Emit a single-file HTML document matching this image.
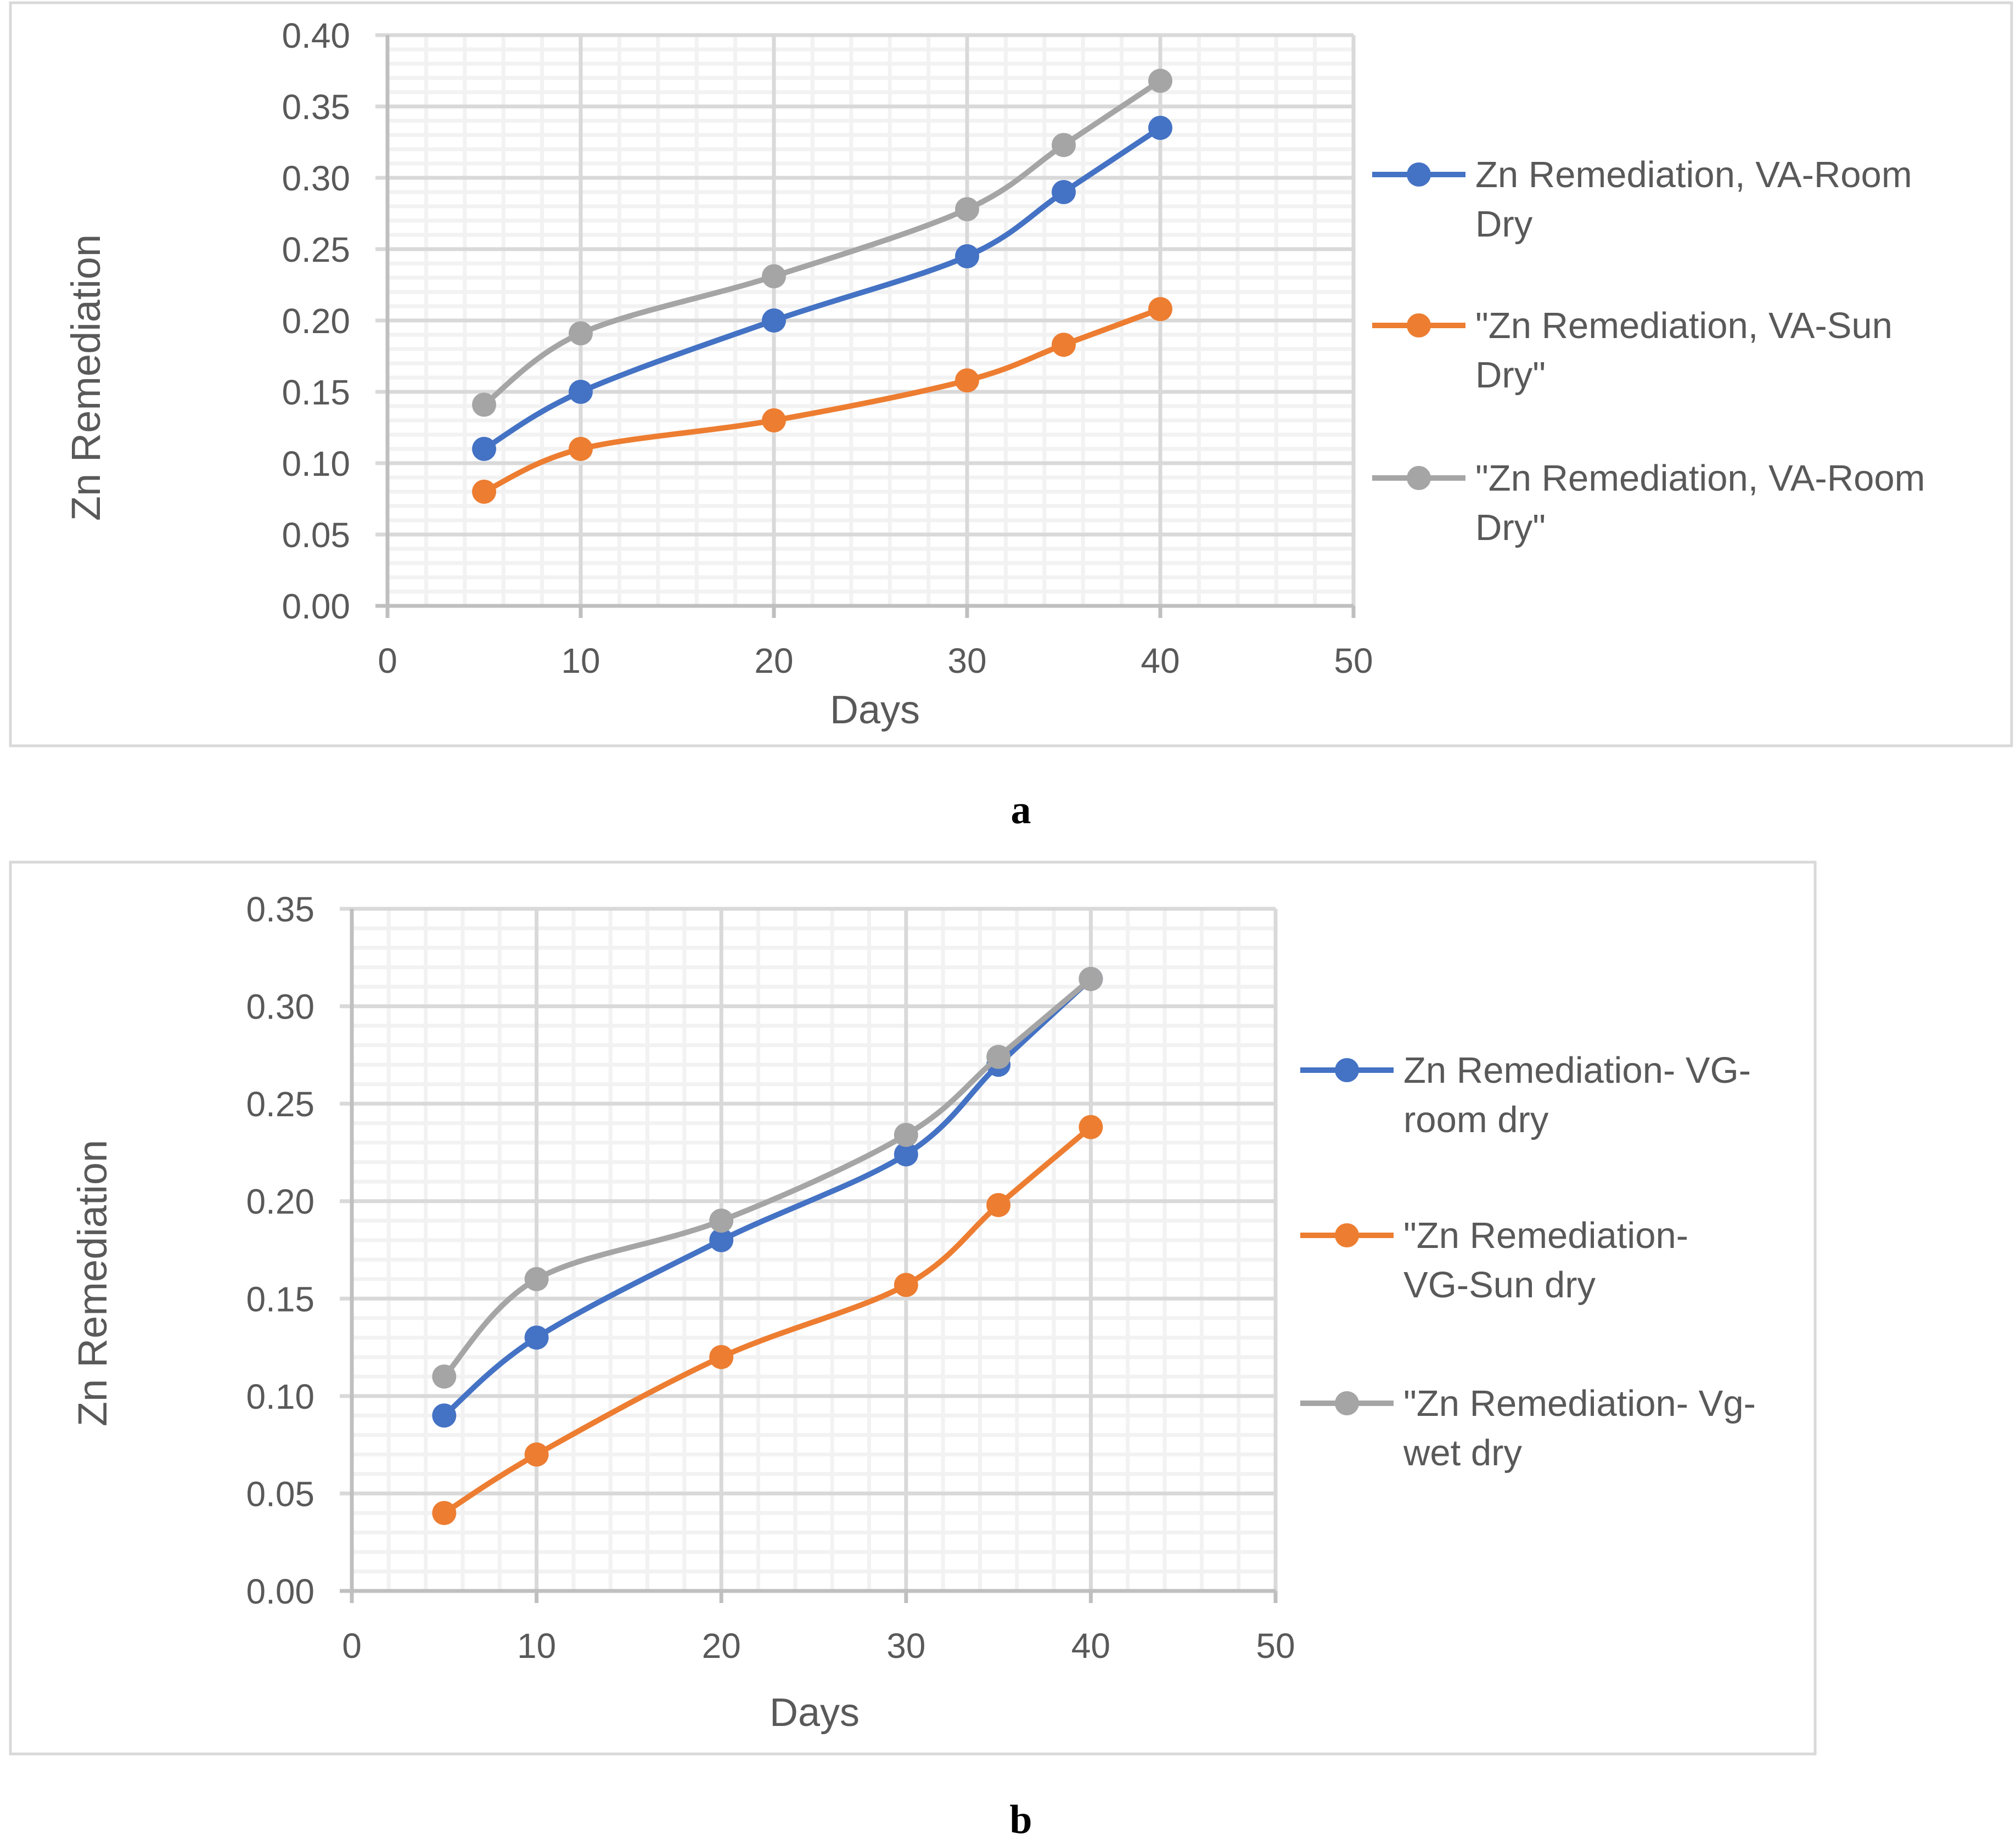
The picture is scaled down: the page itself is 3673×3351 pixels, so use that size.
<!DOCTYPE html>
<html><head><meta charset="utf-8"><style>
html,body{margin:0;padding:0;background:#fff;}
svg{display:block;}
text{font-family:"Liberation Sans",sans-serif;}
</style></head><body>
<svg id="svg" width="3673" height="3351" viewBox="0 0 3673 3351" xmlns="http://www.w3.org/2000/svg">
<rect x="19" y="5" width="3646" height="1354" fill="none" stroke="#d9d9d9" stroke-width="5"/>
<rect x="19" y="1571" width="3288" height="1625" fill="none" stroke="#d9d9d9" stroke-width="5"/>
<text x="1860" y="1500" style="font-family:'Liberation Serif',serif;font-weight:bold;font-size:74px" text-anchor="middle" fill="#000">a</text>
<text x="1860" y="3340" style="font-family:'Liberation Serif',serif;font-weight:bold;font-size:74px" text-anchor="middle" fill="#000">b</text>
</svg>
<script>
const days = [5,10,20,30,35,40];
const xTicks = [0,10,20,30,40,50];
const aBlue = [0.11,0.15,0.20,0.245,0.29,0.335];
const aOrange = [0.08,0.11,0.13,0.158,0.183,0.208];
const aGray = [0.141,0.191,0.231,0.278,0.323,0.368];
const aYTicks = [0,0.05,0.10,0.15,0.20,0.25,0.30,0.35,0.40];
const aLegend = [["Zn Remediation, VA-Room","Dry"],["\"Zn Remediation, VA-Sun","Dry\""],["\"Zn Remediation, VA-Room","Dry\""]];
const bBlue = [0.09,0.13,0.18,0.224,0.27,0.314];
const bOrange = [0.04,0.07,0.12,0.157,0.198,0.238];
const bGray = [0.11,0.16,0.19,0.234,0.274,0.314];
const bYTicks = [0,0.05,0.10,0.15,0.20,0.25,0.30,0.35];
const bLegend = [["Zn Remediation- VG-","room dry"],["\"Zn Remediation-","VG-Sun dry"],["\"Zn Remediation- Vg-","wet dry"]];
const colors = ["#4472c4","#ed7d31","#a5a5a5"];
const NS="http://www.w3.org/2000/svg";
const svg=document.getElementById('svg');
function mk(tag,attrs,parent){const e=document.createElementNS(NS,tag);for(const k in attrs)e.setAttribute(k,attrs[k]);(parent||svg).appendChild(e);return e;}
function chart(cfg){
  const g=mk('g',{});
  
  
  const ymax=cfg.yTicks[cfg.yTicks.length-1];
  const X=v=>cfg.x0+(v/50)*(cfg.x1-cfg.x0);
  const Y=v=>cfg.y0-(v/ymax)*(cfg.y0-cfg.y1);
  for(let d=2;d<50;d+=2){if(d%10===0)continue;const l=mk('line',{x1:X(d),x2:X(d),y1:cfg.y1,y2:cfg.y0,stroke:'#f2f2f2','stroke-width':7},g);}
  for(let i=1;i<cfg.yTicks.length*5;i++){if(i%5===0)continue;const v=i*0.01;if(v>=ymax)break;const l=mk('line',{x1:cfg.x0,x2:cfg.x1,y1:Y(v),y2:Y(v),stroke:'#f2f2f2','stroke-width':7},g);}
  xTicks.forEach(t=>{if(t===0)return;const l=mk('line',{x1:X(t),x2:X(t),y1:cfg.y1,y2:cfg.y0,stroke:'#d9d9d9','stroke-width':7},g);});
  cfg.yTicks.forEach(t=>{
    const l=mk('line',{x1:cfg.x0-22,x2:cfg.x1,y1:Y(t),y2:Y(t),stroke:t===0?'#bfbfbf':'#d9d9d9','stroke-width':7},g);
    const tx=mk('text',{x:cfg.x0-68,y:Y(t)+23,'font-size':64,fill:'#595959','text-anchor':'end'},g);tx.textContent=t.toFixed(2);
  });
  const ya=mk('line',{x1:cfg.x0,x2:cfg.x0,y1:cfg.y1,y2:cfg.y0+22,stroke:'#bfbfbf','stroke-width':7},g);
  xTicks.forEach(t=>{
    const tk=mk('line',{x1:X(t),x2:X(t),y1:cfg.y0,y2:cfg.y0+22,stroke:'#bfbfbf','stroke-width':7},g);
    const tx=mk('text',{x:X(t),y:cfg.y0+122,'font-size':64,fill:'#595959','text-anchor':'middle'},g);tx.textContent=t;
  });
  const xt=mk('text',{x:cfg.xtx,y:cfg.xty,'font-size':72,fill:'#595959','text-anchor':'middle'},g);xt.textContent='Days';
  const yt=mk('text',{x:0,y:0,'font-size':74,fill:'#595959','text-anchor':'middle',transform:`translate(${cfg.ytx},${cfg.yty}) rotate(-90)`},g);yt.textContent='Zn Remediation';
  cfg.series.forEach((vals,si)=>{
    const pts=days.map((d,i)=>[X(d),Y(vals[i])]);
    let p=`M${pts[0][0]},${pts[0][1]}`;
    for(let i=0;i<pts.length-1;i++){const p0=pts[Math.max(0,i-1)],p1=pts[i],p2=pts[i+1],p3=pts[Math.min(pts.length-1,i+2)];
      const c1=[p1[0]+(p2[0]-p0[0])/6,p1[1]+(p2[1]-p0[1])/6],c2=[p2[0]-(p3[0]-p1[0])/6,p2[1]-(p3[1]-p1[1])/6];
      p+=` C${c1[0]},${c1[1]} ${c2[0]},${c2[1]} ${p2[0]},${p2[1]}`;}
    const path=mk('path',{d:p,fill:'none',stroke:colors[si],'stroke-width':10,'stroke-linecap':'round'},g);
    
    
    pts.forEach(pt=>{const c=mk('circle',{cx:pt[0],cy:pt[1],r:22,fill:colors[si]},g);
      
      });
    const ly=cfg.legY[si];
    const ll=mk('line',{x1:cfg.legX,x2:cfg.legX+170,y1:ly,y2:ly,stroke:colors[si],'stroke-width':10},g);
    
    
    const lc=mk('circle',{cx:cfg.legX+85,cy:ly,r:22,fill:colors[si]},g);
    
    
    cfg.legend[si].forEach((s,li)=>{const t=mk('text',{x:cfg.legX+188,y:ly+23+li*90,'font-size':67,fill:'#595959'},g);t.textContent=s;
      
      });
  });
}
chart({name:'chart-a',x0:706,x1:2466,y0:1104,y1:64,yTicks:aYTicks,series:[aBlue,aOrange,aGray],legend:aLegend,legX:2500,legY:[318,593,871],xtx:1594,xty:1318,ytx:182,yty:688});
chart({name:'chart-b',x0:641,x1:2324,y0:2899,y1:1656,yTicks:bYTicks,series:[bBlue,bOrange,bGray],legend:bLegend,legX:2369,legY:[1950,2251,2557],xtx:1484,xty:3145,ytx:194,yty:2338});
</script>
</body></html>
